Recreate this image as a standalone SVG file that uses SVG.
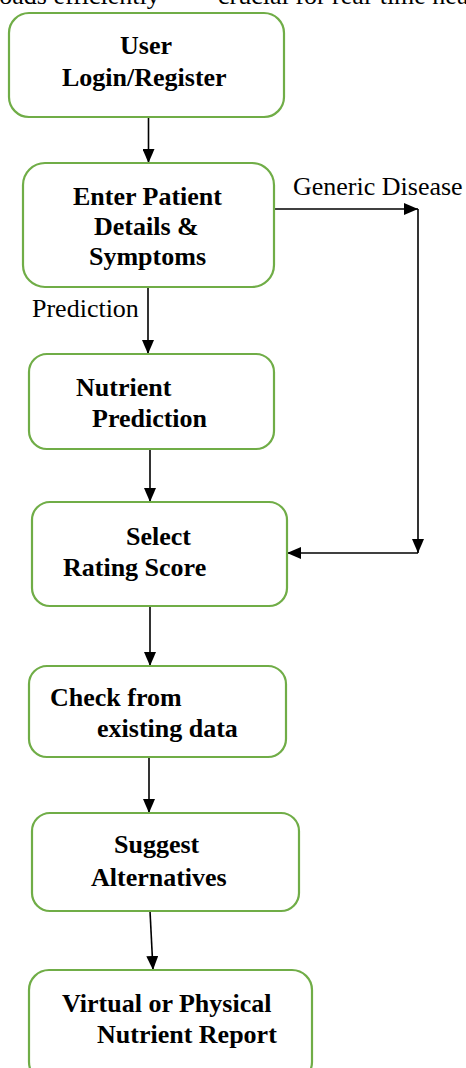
<svg xmlns="http://www.w3.org/2000/svg" width="466" height="1068" viewBox="0 0 466 1068">
<style>
.box{fill:#ffffff;stroke:#70AD47;stroke-width:2.2}
.t{font-family:"Liberation Serif","Times New Roman",serif;font-weight:bold;font-size:26px;fill:#000}
.l{font-family:"Liberation Serif","Times New Roman",serif;font-size:26px;fill:#000}
.c{fill:none;stroke:#000;stroke-width:1.6}
</style>
<defs>
<marker id="ah" viewBox="0 0 14 12" refX="14" refY="6" markerWidth="14" markerHeight="12" markerUnits="userSpaceOnUse" orient="auto">
<path d="M0,0 L14,6 L0,12 Z" fill="#000"/>
</marker>
</defs>
<rect width="466" height="1068" fill="#ffffff"/>
<text class="l" x="-8" y="4">loads efficiently</text>
<text class="l" x="218" y="4">crucial for real-time health</text>
<g id="connectors">
<line class="c" x1="148.5" y1="117" x2="148.5" y2="163" marker-end="url(#ah)"/>
<line class="c" x1="148" y1="287" x2="148" y2="354" marker-end="url(#ah)"/>
<line class="c" x1="150" y1="449" x2="150" y2="502" marker-end="url(#ah)"/>
<line class="c" x1="150" y1="606" x2="150" y2="666" marker-end="url(#ah)"/>
<line class="c" x1="149" y1="757" x2="149" y2="813" marker-end="url(#ah)"/>
<line class="c" x1="150" y1="911" x2="153" y2="970" marker-end="url(#ah)"/>
<line class="c" x1="274" y1="209" x2="418" y2="209" marker-end="url(#ah)"/>
<line class="c" x1="418" y1="209" x2="418" y2="553" marker-end="url(#ah)"/>
<line class="c" x1="418" y1="553" x2="287" y2="553" marker-end="url(#ah)"/>
<text class="l" x="293" y="195">Generic Disease</text>
<text class="l" x="32" y="317">Prediction</text>
</g>
<g id="n1">
<rect class="box" x="9" y="13" width="275" height="104" rx="20"/>
<text class="t" x="120" y="54">User</text>
<text class="t" x="62" y="86">Login/Register</text>
</g>
<g id="n2">
<rect class="box" x="23" y="163" width="251" height="124" rx="22"/>
<text class="t" x="73" y="205">Enter Patient</text>
<text class="t" x="94" y="235">Details &amp;</text>
<text class="t" x="89" y="265">Symptoms</text>
</g>
<g id="n3">
<rect class="box" x="29" y="354" width="245" height="95" rx="18"/>
<text class="t" x="76" y="396">Nutrient</text>
<text class="t" x="92" y="427">Prediction</text>
</g>
<g id="n4">
<rect class="box" x="32" y="502" width="255" height="104" rx="18"/>
<text class="t" x="126" y="545">Select</text>
<text class="t" x="63" y="576">Rating Score</text>
</g>
<g id="n5">
<rect class="box" x="29" y="666" width="257" height="91" rx="18"/>
<text class="t" x="50" y="706">Check from</text>
<text class="t" x="97" y="737">existing data</text>
</g>
<g id="n6">
<rect class="box" x="32" y="813" width="267" height="98" rx="18"/>
<text class="t" x="114" y="853">Suggest</text>
<text class="t" x="91" y="886">Alternatives</text>
</g>
<g id="n7">
<rect class="box" x="29" y="970" width="283" height="112" rx="20"/>
<text class="t" x="62" y="1012">Virtual or Physical</text>
<text class="t" x="97" y="1043">Nutrient Report</text>
</g>
</svg>
